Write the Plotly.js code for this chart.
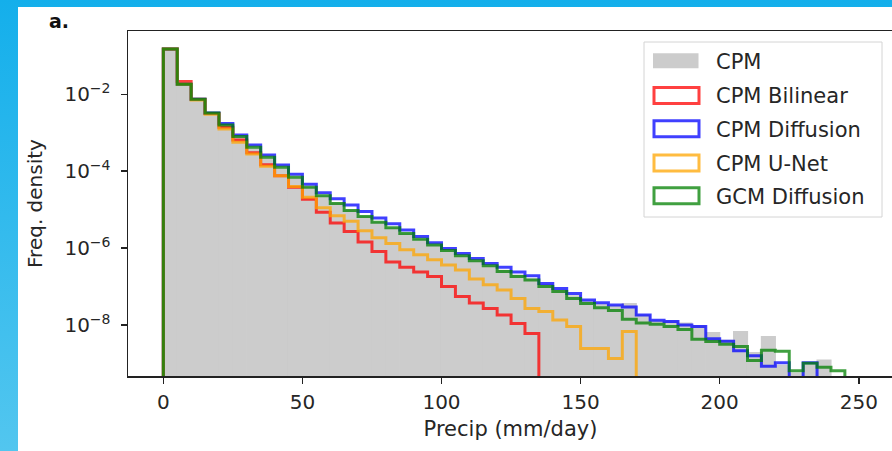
<!DOCTYPE html>
<html><head><meta charset="utf-8">
<script src="https://cdn.plot.ly/plotly-3.0.1.min.js"></script>
<style>
html,body{margin:0;padding:0;width:892px;height:451px;overflow:hidden;background:linear-gradient(to bottom,#14afeb,#52c6ef);}
#wrap{position:absolute;left:18px;top:7px;width:874px;height:444px;overflow:hidden;background:#fff;}
#chart{position:absolute;left:0;top:0;width:900px;height:444px;}
</style></head>
<body><div id="wrap"><div id="chart"></div></div>
<script>
// Bin edges (mm/day)
const binEdges = [0,5,10,15,20,25,30,35,40,45,50,55,60,65,70,75,80,85,90,95,100,105,110,115,120,125,130,135,140,145,150,155,160,165,170,175,180,185,190,195,200,205,210,215,220,225,230,235,240,245];

// Frequency density per bin (0 = empty bin)
const cpm = [1.51e-1,1.74e-2,7.08e-3,3.09e-3,1.51e-3,7.59e-4,3.98e-4,2.19e-4,1.20e-4,6.61e-5,3.72e-5,2.24e-5,1.45e-5,9.55e-6,6.61e-6,4.68e-6,3.31e-6,2.34e-6,1.66e-6,1.20e-6,8.71e-7,6.31e-7,4.68e-7,3.47e-7,2.63e-7,2.00e-7,1.58e-7,1.10e-7,7.94e-8,5.75e-8,4.17e-8,3.47e-8,3.16e-8,3.63e-8,1.82e-8,1.26e-8,1.26e-8,1.12e-8,9.55e-9,6.31e-9,3.98e-9,6.76e-9,1.91e-9,5.01e-9,8.91e-10,5.62e-10,8.91e-10,1.23e-9];
const cpmBilinear = [1.51e-1,2.14e-2,7.41e-3,3.16e-3,1.38e-3,6.46e-4,3.02e-4,1.48e-4,7.59e-5,3.80e-5,1.86e-5,8.51e-6,4.47e-6,2.69e-6,1.45e-6,8.13e-7,4.37e-7,3.16e-7,2.40e-7,1.82e-7,1.00e-7,5.50e-8,3.72e-8,2.69e-8,1.82e-8,1.10e-8,6.03e-9];
const cpmDiffusion = [1.51e-1,1.82e-2,7.41e-3,3.24e-3,1.74e-3,8.71e-4,4.79e-4,2.63e-4,1.45e-4,8.32e-5,4.57e-5,2.75e-5,1.91e-5,1.32e-5,8.91e-6,6.03e-6,4.27e-6,2.95e-6,2.00e-6,1.38e-6,9.77e-7,7.24e-7,5.37e-7,3.98e-7,3.16e-7,2.40e-7,1.91e-7,1.20e-7,8.91e-8,6.61e-8,4.47e-8,3.80e-8,3.31e-8,2.95e-8,1.82e-8,1.32e-8,1.23e-8,1.00e-8,9.12e-9,4.37e-9,3.80e-9,2.14e-9,1.58e-9,8.51e-10,1.05e-9,0,1.05e-9];
const cpmUnet = [1.51e-1,1.82e-2,7.08e-3,3.02e-3,1.26e-3,5.62e-4,2.82e-4,1.35e-4,7.59e-5,3.98e-5,2.09e-5,1.12e-5,6.92e-6,5.01e-6,2.82e-6,1.86e-6,1.32e-6,9.12e-7,6.76e-7,5.01e-7,3.63e-7,2.69e-7,1.58e-7,1.12e-7,8.13e-8,4.90e-8,2.69e-8,2.24e-8,1.35e-8,9.12e-9,2.45e-9,2.45e-9,1.35e-9,6.76e-9];
const gcmDiffusion = [1.51e-1,1.82e-2,7.41e-3,3.24e-3,1.58e-3,7.94e-4,4.17e-4,2.29e-4,1.26e-4,6.92e-5,3.80e-5,2.29e-5,1.45e-5,9.55e-6,6.61e-6,4.68e-6,3.39e-6,2.40e-6,1.70e-6,1.20e-6,8.71e-7,6.31e-7,4.68e-7,3.47e-7,2.45e-7,1.82e-7,1.48e-7,1.00e-7,7.41e-8,4.90e-8,3.63e-8,2.82e-8,2.40e-8,1.41e-8,1.12e-8,1.05e-8,9.12e-9,7.59e-9,4.27e-9,3.72e-9,3.16e-9,2.75e-9,1.20e-9,2.19e-9,2.09e-9,6.46e-10,1.02e-9,7.94e-10,6.46e-10];

const seriesNames = ['CPM','CPM Bilinear','CPM Diffusion','CPM U-Net','GCM Diffusion'];
const yTickVals = [1e-8,1e-6,1e-4,1e-2];
const yTickText = ['10<sup>−8</sup>','10<sup>−6</sup>','10<sup>−4</sup>','10<sup>−2</sup>'];
const xTickVals = [0,50,100,150,200,250];

const FLOOR = 1e-14;
const BIN = 5;

function stepTrace(vals, color, name){
  const xs = [binEdges[0]], ys = [FLOOR];
  for (let i=0;i<vals.length;i++){ xs.push(binEdges[0]+i*BIN); ys.push(vals[i]>0?vals[i]:FLOOR); }
  xs.push(binEdges[0]+vals.length*BIN); ys.push(vals[vals.length-1]>0?vals[vals.length-1]:FLOOR);
  xs.push(binEdges[0]+vals.length*BIN); ys.push(FLOOR);
  return {type:'scatter', mode:'lines', x:xs, y:ys, name:name, showlegend:false,
    line:{shape:'hv', color:color, width:3}, hoverinfo:'skip', cliponaxis:true};
}

const colors = {
  red:'rgba(255,0,0,0.75)', blue:'rgba(0,0,255,0.75)', orange:'rgba(255,165,0,0.75)', green:'rgba(0,128,0,0.75)', gray:'#cccccc'
};

const cpmCenters = cpm.map((v,i)=>binEdges[i]+BIN/2);
const traces = [
  {type:'bar', x:cpmCenters, y:cpm, width:BIN, name:seriesNames[0], showlegend:false,
   marker:{color:colors.gray, line:{color:colors.gray, width:1.2}}, hoverinfo:'skip'},
  stepTrace(cpmBilinear, colors.red, seriesNames[1]),
  stepTrace(cpmDiffusion, colors.blue, seriesNames[2]),
  stepTrace(cpmUnet, colors.orange, seriesNames[3]),
  stepTrace(gcmDiffusion, colors.green, seriesNames[4])
];

// page-pixel -> paper helpers (plot area: x 128..893, y 31..376 on the page)
const PX0=128, PX1=893, PY0=31, PY1=376;
const px = v => (v-PX0)/(PX1-PX0);
const py = v => (PY1-v)/(PY1-PY0);

const shapes = [
  {type:'rect', xref:'paper', yref:'paper', x0:px(644), x1:px(882), y0:py(217), y1:py(42),
   line:{color:'#d4d4d4', width:1}, fillcolor:'rgba(255,255,255,0.85)', layer:'above'}
];
const annotations = [
  {text:'<b>a.</b>', xref:'paper', yref:'paper', x:px(47), y:py(21), xanchor:'left', yanchor:'middle',
   showarrow:false, font:{family:'DejaVu Sans', size:19, color:'#111'}}
];
const legendRows = [60.8, 95.5, 128.8, 163, 195.8];
const legendColors = [colors.gray, colors.red, colors.blue, colors.orange, colors.green];
seriesNames.forEach((nm,i)=>{
  const cy = legendRows[i];
  if (i===0){
    shapes.push({type:'rect', xref:'paper', yref:'paper', x0:px(653), x1:px(698.5), y0:py(cy+7.5), y1:py(cy-7.5),
      line:{width:0}, fillcolor:legendColors[i], layer:'above'});
  } else {
    shapes.push({type:'rect', xref:'paper', yref:'paper', x0:px(654), x1:px(699), y0:py(cy+8), y1:py(cy-8),
      line:{color:legendColors[i], width:3}, fillcolor:'rgba(0,0,0,0)', layer:'above'});
  }
  annotations.push({text:nm, xref:'paper', yref:'paper', x:px(714), y:py(cy+1), xanchor:'left', yanchor:'middle',
    showarrow:false, font:{family:'DejaVu Sans', size:21, color:'#262626'}});
});

const layout = {
  width:900, height:444,
  margin:{l:110, r:25, t:24, b:75, pad:0},
  paper_bgcolor:'#ffffff', plot_bgcolor:'#ffffff',
  showlegend:false, bargap:0,
  font:{family:'DejaVu Sans', size:19, color:'#262626'},
  xaxis:{range:[-12.7,262.3], tickvals:xTickVals, ticks:'outside', ticklen:6, tickwidth:1.5, tickcolor:'#222',
    showline:true, linecolor:'#222', linewidth:1.5, mirror:true, showgrid:false, zeroline:false,
    ticklabelstandoff:1, tickfont:{family:'DejaVu Sans', size:20, color:'#262626'},
    title:{text:'Precip (mm/day)', font:{family:'DejaVu Sans', size:21, color:'#262626'}, standoff:9}},
  yaxis:{type:'log', range:[-9.326,-0.354], tickvals:yTickVals, ticktext:yTickText, ticks:'outside', ticklen:6,
    tickwidth:1.5, tickcolor:'#222', showline:true, linecolor:'#222', linewidth:1.5, mirror:true,
    showgrid:false, zeroline:false, ticklabelstandoff:6, tickfont:{family:'DejaVu Sans', size:20, color:'#262626'},
    title:{text:'Freq. density', font:{family:'DejaVu Sans', size:20, color:'#262626'}, standoff:16}},
  shapes:shapes, annotations:annotations
};

Plotly.newPlot('chart', traces, layout, {staticPlot:true, displayModeBar:false});
</script>
</body></html>
